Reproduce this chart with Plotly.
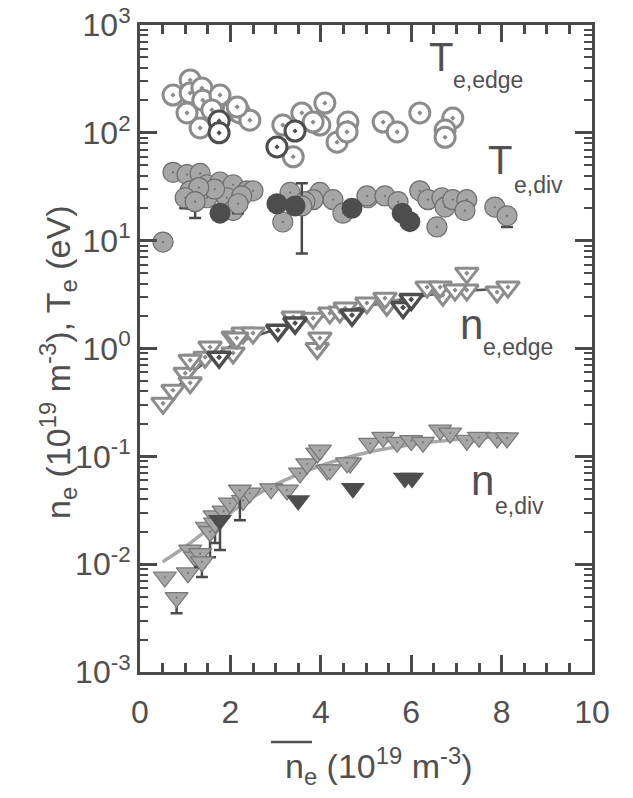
import plotly.graph_objects as go

# ---------------- data ----------------
te_edge_x = [0.73, 1.11, 1.11, 1.37, 1.04, 1.39, 1.77, 1.59, 2.06, 2.21, 2.43, 1.33, 2.15,
             3.16, 3.39, 3.58, 4.09, 3.98, 4.36, 4.60, 4.58, 3.83,
             5.38, 5.69, 6.19, 6.92, 6.75, 6.75]
te_edge_y = [224, 309, 234, 260, 153, 201, 224, 163, 163, 153, 131, 111, 174,
             118, 60, 153, 189, 118, 82, 126, 102, 126,
             126, 102, 153, 137, 106, 91]
te_edge_dark_x = [1.75, 1.75, 3.43, 3.03]
te_edge_dark_y = [129, 100, 104, 74]

te_div_x = [0.73, 1.04, 1.33, 1.11, 1.48, 1.77, 2.06, 2.37, 2.50, 1.48, 1.92, 1.11, 2.06, 0.51,
            1.65, 2.25, 1.30, 3.16, 3.32, 3.98, 4.27, 3.83, 3.65, 4.49, 5.04, 5.02, 5.42, 5.71,
            6.19, 6.37, 6.68, 6.75, 6.92, 7.23, 7.19, 6.57, 7.85]
te_div_y = [43, 41, 42, 29, 33, 35, 33, 29, 29, 25, 25, 24, 19, 9.7,
            30, 26, 31, 14.9, 28, 28, 24, 24, 23, 18, 25, 26, 26, 23,
            29, 24, 25, 20.5, 24, 24, 19, 13.4, 20.5]
te_div_dark_x = [1.77, 3.03, 3.43, 4.69, 5.80, 5.97]
te_div_dark_y = [18, 22, 21, 20, 18, 15]
# points carrying error bars
te_div_err_x = [1.00, 1.22, 2.17, 3.58, 8.12]
te_div_err_y = [25, 23, 22, 21, 17]
te_div_err_plus = [0, 0, 0, 13, 0]
te_div_err_minus = [5, 6.8, 4, 13.4, 3.6]

ne_edge_x = [0.51, 0.73, 1.00, 1.11, 1.22, 1.44, 1.55, 2.06, 2.06, 2.28, 2.50, 1.11, 2.14,
             3.39, 3.83, 3.92, 3.98, 4.20, 4.42, 4.54, 5.02, 5.46, 5.42,
             6.35, 6.70, 6.64, 7.23, 7.23, 7.90, 8.14, 6.97]
ne_edge_y = [0.31, 0.41, 0.59, 0.48, 0.78, 0.83, 1.03, 0.91, 1.28, 1.39, 1.39, 0.78, 1.25,
             1.96, 1.91, 1.00, 1.25, 2.13, 2.18, 2.37, 2.64, 2.52, 2.93,
             3.71, 3.12, 3.71, 5.00, 3.48, 3.34, 3.71, 3.48]
ne_edge_dark_x = [1.75, 3.05, 3.43, 4.69, 5.82, 6.00]
ne_edge_dark_y = [0.83, 1.48, 1.72, 2.04, 2.40, 2.85]

ne_div_x = [0.55, 1.06, 1.11, 1.22, 1.48, 1.65, 1.85, 1.99, 2.28, 2.43, 2.90, 3.25,
            3.54, 3.70, 3.92, 4.14, 4.65, 5.09, 3.98, 5.38, 5.69, 6.00, 6.26, 6.64, 6.86,
            7.23, 7.50, 7.90, 8.12, 4.58, 4.20]
ne_div_y = [0.0076, 0.0083, 0.0135, 0.0116, 0.022, 0.028, 0.031, 0.0368, 0.039, 0.0456, 0.050, 0.0486,
            0.070, 0.085, 0.107, 0.0745, 0.0865, 0.132, 0.114, 0.150, 0.135, 0.140, 0.135, 0.175, 0.164,
            0.141, 0.150, 0.148, 0.148, 0.087, 0.075]
ne_div_err_x = [0.81, 1.33, 1.37, 1.55, 1.66, 2.21]
ne_div_err_y = [0.0049, 0.0125, 0.0105, 0.020, 0.024, 0.0486]
ne_div_err_minus = [0.0014, 0.0031, 0.0029, 0.0084, 0.0083, 0.023]
ne_div_dark_x = [1.77, 3.50, 4.71, 5.86, 6.02]
ne_div_dark_y = [0.0256, 0.039, 0.0507, 0.063, 0.063]
ne_div_dark_minus = [0.0121, 0, 0, 0, 0]

fit_x = [0.5, 1, 1.5, 2, 2.5, 3, 4, 5, 6, 7, 8]
ne_edge_fit = [0.30, 0.52, 0.78, 1.05, 1.28, 1.50, 1.95, 2.45, 2.95, 3.35, 3.60]
ne_div_fit = [0.0105, 0.0145, 0.021, 0.030, 0.042, 0.055, 0.082, 0.108, 0.128, 0.143, 0.152]

x_ticks = [0, 2, 4, 6, 8, 10]
y_ticks = [1e-3, 1e-2, 1e-1, 1e0, 1e1, 1e2, 1e3]
y_ticktext = ["10<sup>-3</sup>", "10<sup>-2</sup>", "10<sup>-1</sup>", "10<sup>0</sup>",
              "10<sup>1</sup>", "10<sup>2</sup>", "10<sup>3</sup>"]

# ---------------- styles ----------------
LIGHT = "#a6a6a6"
LIGHT_LINE = "#8c8c8c"
DARK = "#4d4d4d"
AX = "#4a4a4a"
TXT = "#505050"
MS = 20

fig = go.Figure()

# fit lines
fig.add_trace(go.Scatter(x=fit_x, y=ne_div_fit, mode="lines", line=dict(color="#a8a8a8", width=3.5, shape="spline")))
fig.add_trace(go.Scatter(x=fit_x, y=ne_edge_fit, mode="lines", line=dict(color="#555555", width=2.5, shape="spline")))

# Te,div
fig.add_trace(go.Scatter(x=te_div_x, y=te_div_y, mode="markers",
                         marker=dict(symbol="circle-dot", size=MS, color=LIGHT, line=dict(color="#6f6f6f", width=1.2))))
fig.add_trace(go.Scatter(x=te_div_err_x, y=te_div_err_y, mode="markers",
                         marker=dict(symbol="circle-dot", size=MS, color=LIGHT, line=dict(color="#6f6f6f", width=1.2)),
                         error_y=dict(type="data", symmetric=False, array=te_div_err_plus, arrayminus=te_div_err_minus,
                                      color=AX, thickness=2.5, width=6)))
fig.add_trace(go.Scatter(x=te_div_dark_x, y=te_div_dark_y, mode="markers",
                         marker=dict(symbol="circle", size=MS + 1, color=DARK, line=dict(width=0))))

# Te,edge
fig.add_trace(go.Scatter(x=te_edge_x, y=te_edge_y, mode="markers",
                         marker=dict(symbol="circle-dot", size=MS, color="white", line=dict(color=LIGHT_LINE, width=3))))
fig.add_trace(go.Scatter(x=te_edge_dark_x, y=te_edge_dark_y, mode="markers",
                         marker=dict(symbol="circle-dot", size=MS, color="white", line=dict(color=DARK, width=3))))

# ne,edge
fig.add_trace(go.Scatter(x=ne_edge_x, y=ne_edge_y, mode="markers",
                         marker=dict(symbol="triangle-down-dot", size=MS, color="white", line=dict(color=LIGHT_LINE, width=3))))
fig.add_trace(go.Scatter(x=ne_edge_dark_x, y=ne_edge_dark_y, mode="markers",
                         marker=dict(symbol="triangle-down-dot", size=MS, color="white", line=dict(color=DARK, width=3.5))))

# ne,div
fig.add_trace(go.Scatter(x=ne_div_x, y=ne_div_y, mode="markers",
                         marker=dict(symbol="triangle-down-dot", size=MS, color=LIGHT, line=dict(color="#777777", width=1.2))))
fig.add_trace(go.Scatter(x=ne_div_err_x, y=ne_div_err_y, mode="markers",
                         marker=dict(symbol="triangle-down-dot", size=MS, color=LIGHT, line=dict(color="#777777", width=1.2)),
                         error_y=dict(type="data", symmetric=False, array=[0] * len(ne_div_err_x),
                                      arrayminus=ne_div_err_minus, color=AX, thickness=2.5, width=6)))
fig.add_trace(go.Scatter(x=ne_div_dark_x, y=ne_div_dark_y, mode="markers",
                         marker=dict(symbol="triangle-down", size=MS + 1, color=DARK, line=dict(width=0)),
                         error_y=dict(type="data", symmetric=False, array=[0] * len(ne_div_dark_x),
                                      arrayminus=ne_div_dark_minus, color=AX, thickness=2.5, width=6)))

# ---------------- layout ----------------
L, R, T, B = 140, 41, 25, 126
W, H = 633, 798
pw, ph = W - L - R, H - T - B


def px(xp):
    return (xp - L) / pw


def py(yp):
    return (H - B - yp) / ph


fig.update_layout(
    width=W, height=H,
    margin=dict(l=L, r=R, t=T, b=B, autoexpand=False),
    plot_bgcolor="white", paper_bgcolor="white",
    showlegend=False,
    font=dict(family="Liberation Sans, Arial, sans-serif", size=32, color=TXT),
)
fig.update_xaxes(
    range=[0, 10], tickvals=x_ticks, ticks="inside", ticklen=17, tickwidth=2.5, tickcolor=AX,
    showline=True, linewidth=3, linecolor=AX, mirror="allticks", showgrid=False, zeroline=False,
    ticklabelstandoff=10, automargin=False,
    minor=dict(ticks="inside", ticklen=9, tickwidth=2.5, tickcolor=AX, dtick=0.5, showgrid=False),
    tickfont=dict(size=32, color=TXT),
)
fig.update_yaxes(
    type="log", range=[-3, 3], tickvals=y_ticks, ticktext=y_ticktext,
    ticks="inside", ticklen=17, tickwidth=2.5, tickcolor=AX, automargin=False,
    showline=True, linewidth=3, linecolor=AX, mirror="allticks", showgrid=False, zeroline=False,
    minor=dict(ticks="inside", ticklen=8, tickwidth=2, tickcolor=AX, dtick="D1", showgrid=False),
    tickfont=dict(size=32, color=TXT),
)

ann = []


def label(text, xp, yp, size, **kw):
    ann.append(dict(text=text, x=px(xp), y=py(yp), xref="paper", yref="paper", showarrow=False,
                    xanchor="center", yanchor="middle", font=dict(size=size, color=TXT), **kw))


label("T", 441, 57, 40)
label("e,edge", 488, 80, 23)
label("T", 500, 160, 40)
label("e,div", 538, 185, 23)
label("n", 471, 324, 42)
label("e,edge", 518, 347, 23)
label("n", 482, 480, 42)
label("e,div", 519, 506, 23)
label("n<sub>e</sub> (10<sup>19</sup> m<sup>-3</sup>)", 379, 766, 34)
label("n<sub>e</sub> (10<sup>19</sup> m<sup>-3</sup>), T<sub>e</sub> (eV)", 58, 362, 34, textangle=-90)
fig.update_layout(annotations=ann)

# overline on the x-axis title
fig.add_shape(type="line", xref="paper", yref="paper", x0=px(271), x1=px(312), y0=py(742), y1=py(742),
              line=dict(color=TXT, width=2.5))

fig.write_html("out.html", config={"displayModeBar": False},
               post_script="document.body.style.margin='0px';document.body.style.overflow='hidden';")
